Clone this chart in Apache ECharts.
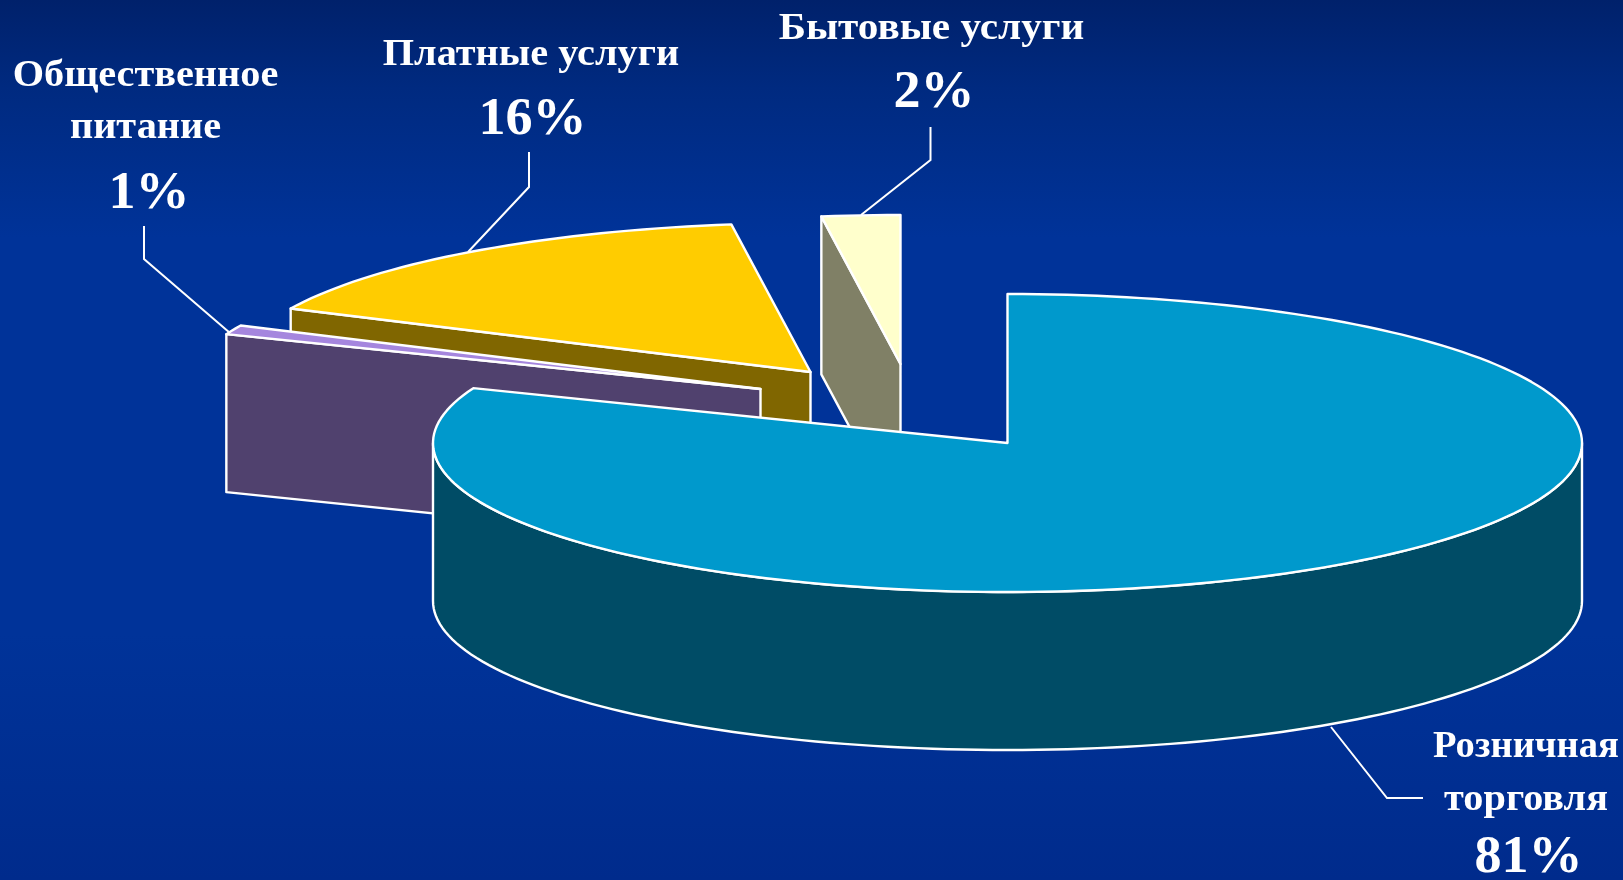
<!DOCTYPE html>
<html><head><meta charset="utf-8">
<style>html,body{margin:0;padding:0;width:1623px;height:880px;overflow:hidden}#c{width:1623px;height:880px}</style>
<script src="https://cdn.jsdelivr.net/npm/echarts@6/dist/echarts.min.js"></script>
</head><body><div id="c"></div>
<script>
// ---- data ----
const categories = ['Розничная торговля', 'Общественное питание', 'Платные услуги', 'Бытовые услуги'];
const shares = [81.0, 1.0, 15.8, 2.2];          // wedge sizes
const percentLabels = ['81%', '1%', '16%', '2%']; // as printed
const nameLines = [['Розничная', 'торговля'], ['Общественное', 'питание'], ['Платные услуги'], ['Бытовые услуги']];
const topColors = ['#0099CC', '#A586DE', '#FFCC00', '#FFFFCC'];
const wallColors = ['#004C66', '#50416E', '#806600', '#808066'];

// ---- layout of the 3D pie ----
const pie = {cx: 1007.5, cy: 443, rx: 574.5, ry: 149, depth: 158};
const explode = [[0, 0], [-247, -54], [-197, -71], [-107, -79]];
const nameFont = 'bold 38px "Liberation Serif"', pctFont = 'bold 52px "Liberation Serif"';
const labelLayout = [
  {x: 1526, names: [747, 800], stretch: [1.015, 1.06], pct: 859, pctX: 1528.5},
  {x: 145.5, names: [76, 128], stretch: [1.06, 1.06], pct: 195, pctX: 149},
  {x: 531, names: [55], stretch: [1.06], pct: 121, pctX: 532.5},
  {x: 931.5, names: [29], stretch: [1.085], pct: 94, pctX: 934}
];
const leaders = [
  [[1331, 727], [1387, 798], [1423, 798]],
  [[144, 226], [144, 259], [230, 333]],
  [[529, 152], [529, 187], [468, 252]],
  [[930.5, 127], [930.5, 160], [861, 215]]
];

const total = shares.reduce((a, b) => a + b, 0);
function arc(ox, oy, a0, a1, dz) {
  const pts = [], n = Math.max(2, Math.ceil(Math.abs(a1 - a0) / 1.5));
  for (let k = 0; k <= n; k++) {
    const a = (a0 + (a1 - a0) * k / n) * Math.PI / 180;
    pts.push([ox + pie.rx * Math.cos(a), oy - pie.ry * Math.sin(a) + dz]);
  }
  return pts;
}
const lineStyle = {stroke: '#fff', lineWidth: 2.4, lineJoin: 'round'};

function renderItem(params, api) {
  const i = params.dataIndex;
  let before = 0;
  for (let k = 0; k < i; k++) before += shares[k];
  const share = api.value(0);
  const a0 = 90 - before / total * 360;
  const a1 = a0 - share / total * 360;
  const ox = pie.cx + explode[i][0], oy = pie.cy + explode[i][1];
  const base = (i === 0 ? 40 : i === 1 ? 30 : i === 2 ? 20 : 10);
  const children = [];
  const apex = [ox, oy];

  // face of the cut edge that turns toward the viewer
  if (i > 0) {
    const q = arc(ox, oy, a0, a0, 0)[0], d = pie.depth;
    children.push({type: 'polygon', z2: base,
      shape: {points: [q, apex, [ox, oy + d], [q[0], q[1] + d]]},
      style: Object.assign({fill: wallColors[i]}, lineStyle)});
  }
  // outer rim, only the front half shows
  const f0 = Math.max(a1, -180), f1 = Math.min(a0, 0);
  if (f1 > f0) {
    const top = arc(ox, oy, f1, f0, 0), bot = arc(ox, oy, f0, f1, pie.depth);
    children.push({type: 'polygon', z2: base + 1,
      shape: {points: top.concat(bot)},
      style: Object.assign({fill: wallColors[i]}, lineStyle)});
  }
  // top surface
  children.push({type: 'polygon', z2: base + 2,
    shape: {points: [apex].concat(arc(ox, oy, a0, a1, 0))},
    style: Object.assign({fill: topColors[i]}, lineStyle)});

  // leader
  children.push({type: 'polyline', z2: 60,
    shape: {points: leaders[i]},
    style: {stroke: '#fff', lineWidth: 2, fill: null}});

  // text
  const L = labelLayout[i];
  nameLines[i].forEach((t, k) => children.push({type: 'text', z2: 70,
    x: L.x, y: L.names[k], scaleX: L.stretch[k],
    style: {text: t, x: 0, y: 0, fill: '#fff', font: nameFont, align: 'center', verticalAlign: 'middle'}}));
  children.push({type: 'text', z2: 70,
    x: L.pctX, y: L.pct, scaleX: 1.04,
    style: {text: percentLabels[i], x: 0, y: 0, fill: '#fff', font: pctFont, align: 'center', verticalAlign: 'middle'}});
  return {type: 'group', children};
}

const chart = echarts.init(document.getElementById('c'), null, {renderer: 'canvas', width: 1623, height: 880});
chart.setOption({
  animation: false,
  backgroundColor: {type: 'linear', x: 0, y: 0, x2: 0, y2: 1, colorStops: [
    {offset: 0, color: '#00216B'},
    {offset: 0.1, color: '#002A80'},
    {offset: 0.27, color: '#003399'},
    {offset: 0.72, color: '#003399'},
    {offset: 1, color: '#002B8C'}
  ]},
  series: [{
    type: 'custom',
    name: 'Доля',
    coordinateSystem: 'none',
    silent: true,
    data: categories.map((name, i) => ({name, value: [shares[i]]})),
    renderItem
  }]
});
</script></body></html>
